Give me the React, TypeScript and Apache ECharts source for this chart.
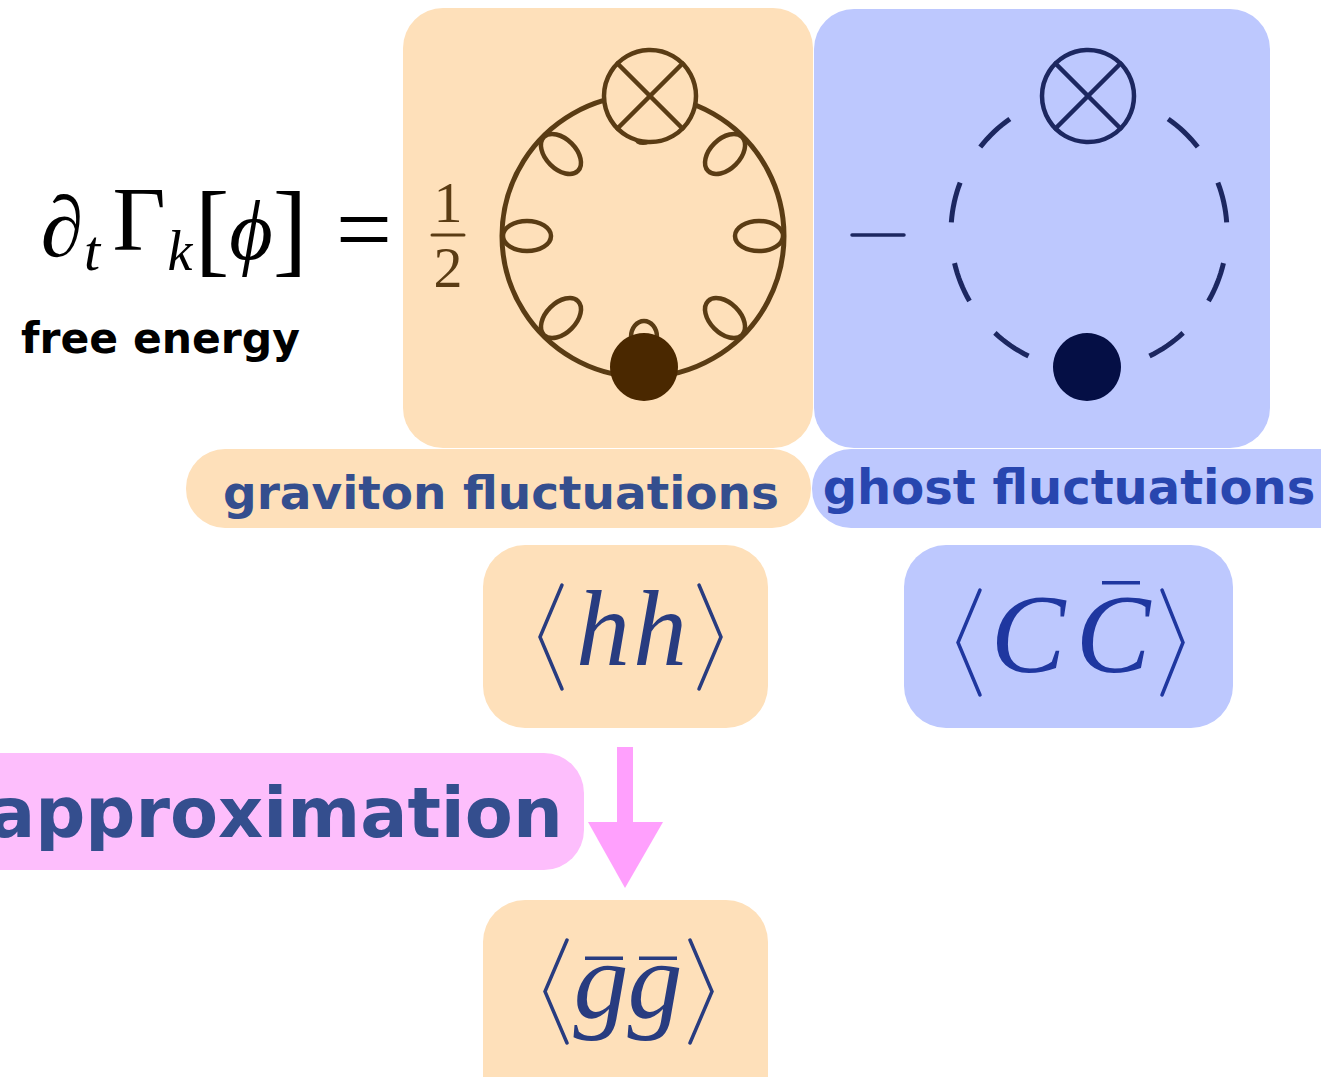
import React, { useEffect, useRef } from "react";
import * as echarts from "echarts";

// ---- content (texts and diagram parameters) ----
const FORMULA_MAIN = ["∂", "Γ", "[", "ϕ", "]", "="];
const FORMULA_SUBS = ["t", "k"];
const FRACTION = ["1", "2"];
const CAPTION = "free energy";
const PANEL_LABELS = ["graviton fluctuations", "ghost fluctuations"];
const APPROX_LABEL = "approximation";
const GRAVITON_CORR = ["h", "h"];
const GHOST_CORR = ["C", "C"];
const BG_CORR = ["g", "g"];
const LOOP_ANGLES = [180, 135, 45, 0, -45, -135];
const DASH_CENTERS = [133.5, 167.5, 201.5, 235.5, 46.5, 12.5, -21.5, -55.5];

const ORANGE = "#FEE0BA";
const BLUE = "#BDC8FE";
const PINK = "#FDBEFC";
const ARROW = "#FFA0FD";
const BROWN = "#5A3C14";
const BROWN_DOT = "#4A2800";
const NAVY = "#1C2760";
const NAVY_DOT = "#050F45";
const LABEL_BLUE = "#344E8E";
const GHOST_BLUE = "#2846AF";
const MATH_BLUE = "#283C80";
const MATH_BLUE2 = "#1F37A0";

const SERIF = '"Liberation Serif", "DejaVu Serif", serif';
const SANS = '"DejaVu Sans", Verdana, sans-serif';

const deg = (d: number) => (d * Math.PI) / 180;

function txt(text: string, x: number, baseline: number, size: number, o: any = {}) {
  return {
    type: "text",
    x,
    y: baseline - 0.34 * size,
    style: {
      text,
      fontSize: size,
      fontFamily: o.family || SERIF,
      fontStyle: o.italic ? "italic" : "normal",
      fontWeight: o.bold ? "bold" : "normal",
      fill: o.fill || "#000",
      align: o.align || "center",
      verticalAlign: "middle",
    },
  };
}

function line(x1: number, y1: number, x2: number, y2: number, color: string, w: number) {
  return {
    type: "line",
    shape: { x1, y1, x2, y2 },
    style: { stroke: color, lineWidth: w, lineCap: "round" },
  };
}

function bracket(xOut: number, xTip: number, top: number, bottom: number, color: string) {
  return {
    type: "polyline",
    shape: { points: [[xOut, top], [xTip, (top + bottom) / 2], [xOut, bottom]] },
    style: { stroke: color, lineWidth: 3.5, fill: "none", lineCap: "round", lineJoin: "miter" },
  };
}

function crossedCircle(cx: number, cy: number, r: number, color: string, fill: string) {
  const d = r * Math.cos(Math.PI / 4);
  return [
    { type: "circle", shape: { cx, cy, r }, style: { fill, stroke: color, lineWidth: 4.5 } },
    line(cx - d, cy - d, cx + d, cy + d, color, 4.5),
    line(cx + d, cy - d, cx - d, cy + d, color, 4.5),
  ];
}

function buildElements() {
  const els: any[] = [];
  // panels
  els.push({ type: "rect", shape: { x: 403, y: 8, width: 410, height: 440, r: 40 }, style: { fill: ORANGE } });
  els.push({ type: "rect", shape: { x: 814, y: 9, width: 456, height: 439, r: 40 }, style: { fill: BLUE } });
  els.push({ type: "rect", shape: { x: 186, y: 449, width: 625, height: 79, r: 39 }, style: { fill: ORANGE } });
  els.push({ type: "rect", shape: { x: 812, y: 449, width: 560, height: 79, r: 39 }, style: { fill: BLUE } });
  els.push({ type: "rect", shape: { x: 483, y: 545, width: 285, height: 183, r: 42 }, style: { fill: ORANGE } });
  els.push({ type: "rect", shape: { x: 904, y: 545, width: 329, height: 183, r: 42 }, style: { fill: BLUE } });
  els.push({ type: "rect", shape: { x: -60, y: 753, width: 644, height: 117, r: 40 }, style: { fill: PINK } });
  els.push({ type: "rect", shape: { x: 483, y: 900, width: 285, height: 240, r: 42 }, style: { fill: ORANGE } });

  // arrow
  els.push({ type: "rect", shape: { x: 617, y: 747, width: 16, height: 76 }, style: { fill: ARROW } });
  els.push({ type: "polygon", shape: { points: [[588, 822], [663, 822], [625, 888]] }, style: { fill: ARROW } });

  // formula
  els.push(txt(FORMULA_MAIN[0], 62, 256, 86, { italic: true }));
  els.push(txt(FORMULA_SUBS[0], 92, 270, 58, { italic: true }));
  els.push(txt(FORMULA_MAIN[1], 139, 250, 92));
  els.push(txt(FORMULA_SUBS[1], 180, 270, 56, { italic: true }));
  els.push(txt(FORMULA_MAIN[2], 212, 263, 104));
  els.push(txt(FORMULA_MAIN[3], 251, 259, 84, { italic: true }));
  els.push(txt(FORMULA_MAIN[4], 290, 263, 104));
  els.push(txt(FORMULA_MAIN[5], 364, 263, 100));
  els.push(txt(CAPTION, 21, 353, 42.5, { family: SANS, bold: true, align: "left" }));

  // fraction 1/2
  els.push(txt(FRACTION[0], 448, 222, 58, { fill: BROWN }));
  els.push(line(432, 235, 464, 235, BROWN, 3));
  els.push(txt(FRACTION[1], 448, 287, 58, { fill: BROWN }));

  // graviton loop diagram
  const gcx = 643, gcy = 236, gr = 141;
  els.push({ type: "circle", shape: { cx: gcx, cy: gcy, r: gr }, style: { fill: "none", stroke: BROWN, lineWidth: 5 } });
  LOOP_ANGLES.forEach((a) => {
    els.push({
      type: "ellipse",
      x: gcx + 116 * Math.cos(deg(a)),
      y: gcy - 116 * Math.sin(deg(a)),
      rotation: deg(a),
      shape: { cx: 0, cy: 0, rx: 24, ry: 15 },
      style: { fill: "none", stroke: BROWN, lineWidth: 4.5 },
    });
  });
  els.push({ type: "ellipse", shape: { cx: 644, cy: 337, rx: 13, ry: 16 }, style: { fill: "none", stroke: BROWN, lineWidth: 4.5 } });
  els.push({ type: "ellipse", shape: { cx: 643, cy: 139, rx: 8, ry: 5 }, style: { fill: BROWN, stroke: BROWN, lineWidth: 2 } });
  crossedCircle(650, 96, 46, BROWN, ORANGE).forEach((e) => els.push(e));
  els.push({ type: "circle", shape: { cx: 644, cy: 367, r: 34 }, style: { fill: BROWN_DOT } });

  // ghost loop diagram
  els.push(line(852, 235, 904, 235, NAVY, 3.5));
  const hcx = 1089, hcy = 232, hr = 138;
  DASH_CENTERS.forEach((c) => {
    const pts: number[][] = [];
    for (let i = 0; i <= 8; i++) {
      const a = deg(c - 8.5 + (17 * i) / 8);
      pts.push([hcx + hr * Math.cos(a), hcy - hr * Math.sin(a)]);
    }
    els.push({ type: "polyline", shape: { points: pts }, style: { stroke: NAVY, lineWidth: 5, fill: "none" } });
  });
  crossedCircle(1088, 96, 46, NAVY, BLUE).forEach((e) => els.push(e));
  els.push({ type: "circle", shape: { cx: 1087, cy: 367, r: 34 }, style: { fill: NAVY_DOT } });

  // labels
  els.push(txt(PANEL_LABELS[0], 501, 508, 47, { family: SANS, bold: true, fill: LABEL_BLUE }));
  els.push(txt(PANEL_LABELS[1], 1069, 503, 48, { family: SANS, bold: true, fill: GHOST_BLUE }));
  els.push(txt(APPROX_LABEL, -12, 837, 70, { family: SANS, bold: true, fill: LABEL_BLUE, align: "left" }));

  // <hh>
  els.push(bracket(562, 540, 585, 689, MATH_BLUE));
  els.push(txt(GRAVITON_CORR[0], 603, 665, 108, { italic: true, fill: MATH_BLUE }));
  els.push(txt(GRAVITON_CORR[1], 660, 665, 108, { italic: true, fill: MATH_BLUE }));
  els.push(bracket(699, 721, 585, 689, MATH_BLUE));

  // <C Cbar>
  els.push(bracket(980, 958, 590, 695, MATH_BLUE2));
  els.push(txt(GHOST_CORR[0], 1028, 672, 112, { italic: true, fill: MATH_BLUE2 }));
  els.push(txt(GHOST_CORR[1], 1113, 672, 112, { italic: true, fill: MATH_BLUE2 }));
  els.push({ type: "rect", shape: { x: 1102, y: 581, width: 38, height: 3.5 }, style: { fill: MATH_BLUE2 } });
  els.push(bracket(1162, 1183, 590, 695, MATH_BLUE2));

  // <gbar gbar>
  els.push(bracket(567, 545, 940, 1043, MATH_BLUE));
  els.push(txt(BG_CORR[0], 601, 1018, 110, { italic: true, fill: MATH_BLUE }));
  els.push(txt(BG_CORR[1], 655, 1018, 110, { italic: true, fill: MATH_BLUE }));
  els.push({ type: "rect", shape: { x: 585, y: 956.5, width: 38, height: 3.5 }, style: { fill: MATH_BLUE } });
  els.push({ type: "rect", shape: { x: 639, y: 956.5, width: 38, height: 3.5 }, style: { fill: MATH_BLUE } });
  els.push(bracket(690, 712, 940, 1043, MATH_BLUE));

  return els;
}

export default function App() {
  const ref = useRef<HTMLDivElement>(null);
  useEffect(() => {
    if (!ref.current) return;
    const chart = echarts.init(ref.current, null, { renderer: "svg", width: 1321, height: 1077 });
    chart.setOption({
      animation: false,
      backgroundColor: "#ffffff",
      graphic: { elements: buildElements() },
    });
    return () => chart.dispose();
  }, []);
  return (
    <div
      ref={ref}
      style={{ position: "absolute", left: 0, top: 0, width: 1321, height: 1077, overflow: "hidden" }}
    />
  );
}
